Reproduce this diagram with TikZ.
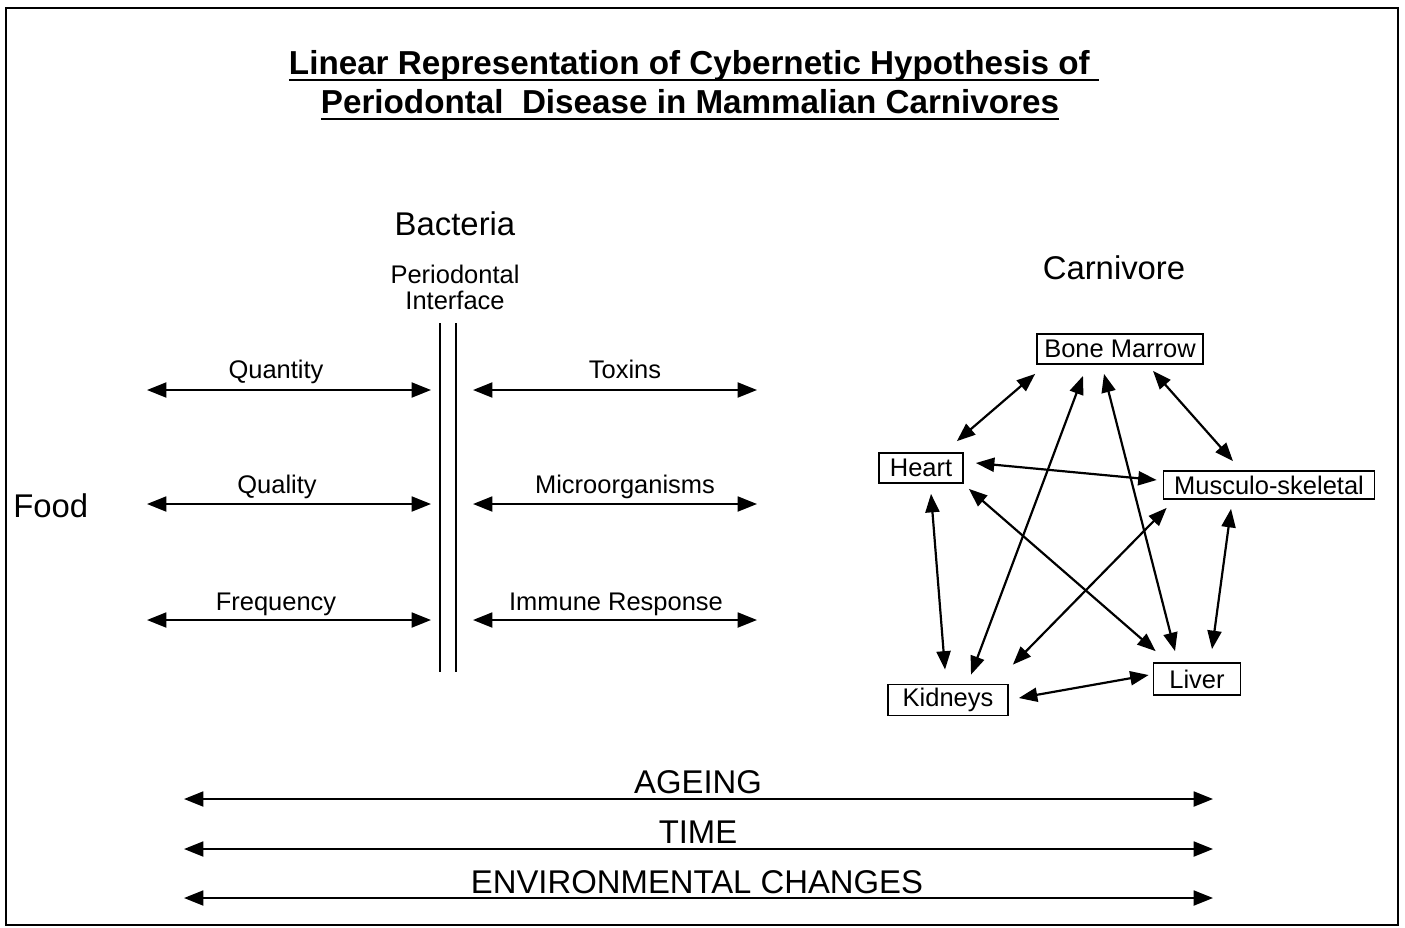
\documentclass[tikz,border=0pt]{standalone}
\usepackage{fontspec}
\setmainfont{Liberation Sans}
\usetikzlibrary{arrows.meta, positioning}

\newcommand{\titleline}[1]{\setbox0\hbox{#1}\rlap{\rule[-4.2pt]{\wd0}{1.4pt}}\box0}

\begin{document}
\begin{tikzpicture}[
  x=0.02cm, y=-0.02cm,
  heading/.style={font=\fontsize{18.9}{22}\selectfont\bfseries},
  big/.style={font=\fontsize{18.7}{22}\selectfont},
  small/.style={font=\fontsize{14.5}{14.8}\selectfont},
  organ/.style={draw, line width=1pt, small, minimum height=0.6cm, inner sep=1pt},
  arr/.style={{Triangle[length=11pt,width=8.5pt]}-{Triangle[length=11pt,width=8.5pt]}, line width=1.2pt},
  link/.style={{Triangle[length=10.5pt,width=8pt]}-{Triangle[length=10.5pt,width=8pt]}, line width=1.25pt},
  wall/.style={line width=1pt}
]
\useasboundingbox (0,0) rectangle (1405,927);
\draw[line width=1.4pt] (6,8) rectangle (1398,925);

% title
\node[heading, anchor=base] (title1) at (694,74) {\titleline{Linear Representation of Cybernetic Hypothesis of\ }};
\node[heading, anchor=base] (title2) at (690,113) {\titleline{Periodontal\ \ Disease in Mammalian Carnivores}};

% headings
\node[big, anchor=base] (bacteria) at (455,235) {Bacteria};
\node[small, align=center, anchor=north, inner sep=0pt] (interface) at (455,265) {Periodontal\\Interface};
\node[big, anchor=base] (carnivore) at (1114,279) {Carnivore};
\node[big, anchor=base west, inner sep=0pt] (food) at (13,517) {Food};

% periodontal interface
\coordinate (wallA-t) at (440,323);
\coordinate (wallA-b) at (440,672);
\coordinate (wallB-t) at (456,323);
\coordinate (wallB-b) at (456,672);
\draw[wall] (wallA-t) -- (wallA-b);
\draw[wall] (wallB-t) -- (wallB-b);

% food side
\foreach \y/\name in {390/quant, 504/qual, 620/freq}{
  \coordinate (\name-l) at (147,\y);
  \coordinate (\name-r) at (431,\y);
  \draw[arr] (\name-l) -- (\name-r);
}
\node[small, anchor=base] (quantity) at (276,378) {Quantity};
\node[small, anchor=base] (quality) at (277,493) {Quality};
\node[small, anchor=base] (frequency) at (276,610) {Frequency};

% carnivore side
\foreach \y/\name in {390/tox, 504/micro, 620/immune}{
  \coordinate (\name-l) at (473,\y);
  \coordinate (\name-r) at (757,\y);
  \draw[arr] (\name-l) -- (\name-r);
}
\node[small, anchor=base] (toxins) at (625,378) {Toxins};
\node[small, anchor=base] (microbes) at (625,493) {Microorganisms};
\node[small, anchor=base] (response) at (616,610) {Immune Response};

% organs
\node[organ, minimum width=3.32cm] (marrow) at (1120,349) {Bone Marrow};
\node[organ, minimum width=1.68cm] (heart) at (921,468) {Heart};
\node[organ, minimum width=4.22cm, minimum height=0.56cm] (muscle) at (1269,485) {Musculo-skeletal};
\node[organ, minimum width=1.74cm, minimum height=0.64cm] (liver) at (1197,679) {Liver};
\node[organ, minimum width=2.4cm, minimum height=0.62cm] (kidneys) at (948,700) {Kidneys};

\draw[link] ([shift={(-1,9)}]marrow.south west) -- ([shift={(-7,-11)}]heart.north east);
\draw[link] ([shift={(-37,11)}]marrow.south) -- ([shift={(23,-9)}]kidneys.north);
\draw[link] ([shift={(-16,9)}]marrow.south) -- ([shift={(-22,-11)}]liver.north);
\draw[link] ([shift={(33,6)}]marrow.south) -- ([shift={(-36,-9)}]muscle.north);
\draw[link] ([shift={(12,-5)}]heart.east) -- ([shift={(-6,-5)}]muscle.west);
\draw[link] ([shift={(5,5)}]heart.south east) -- ([shift={(3,-11)}]liver.north west);
\draw[link] ([shift={(10,10)}]heart.south) -- ([shift={(-3,-14)}]kidneys.north);
\draw[link] ([shift={(4,8)}]muscle.south west) -- ([shift={(4,-19)}]kidneys.north east);
\draw[link] ([shift={(-38,9)}]muscle.south) -- ([shift={(15,-13)}]liver.north);
\draw[link] ([shift={(10,-2)}]kidneys.east) -- ([shift={(-4,-4)}]liver.west);

% time scales
\foreach \y/\name in {799/age, 849/time, 898/env}{
  \coordinate (\name-l) at (184,\y);
  \coordinate (\name-r) at (1213,\y);
  \draw[arr] (\name-l) -- (\name-r);
}
\node[big, anchor=base] (ageing) at (698,793) {AGEING};
\node[big, anchor=base] (timelbl) at (698,843) {TIME};
\node[big, anchor=base] (envlbl) at (697,893) {ENVIRONMENTAL CHANGES};

\end{tikzpicture}
\end{document}
